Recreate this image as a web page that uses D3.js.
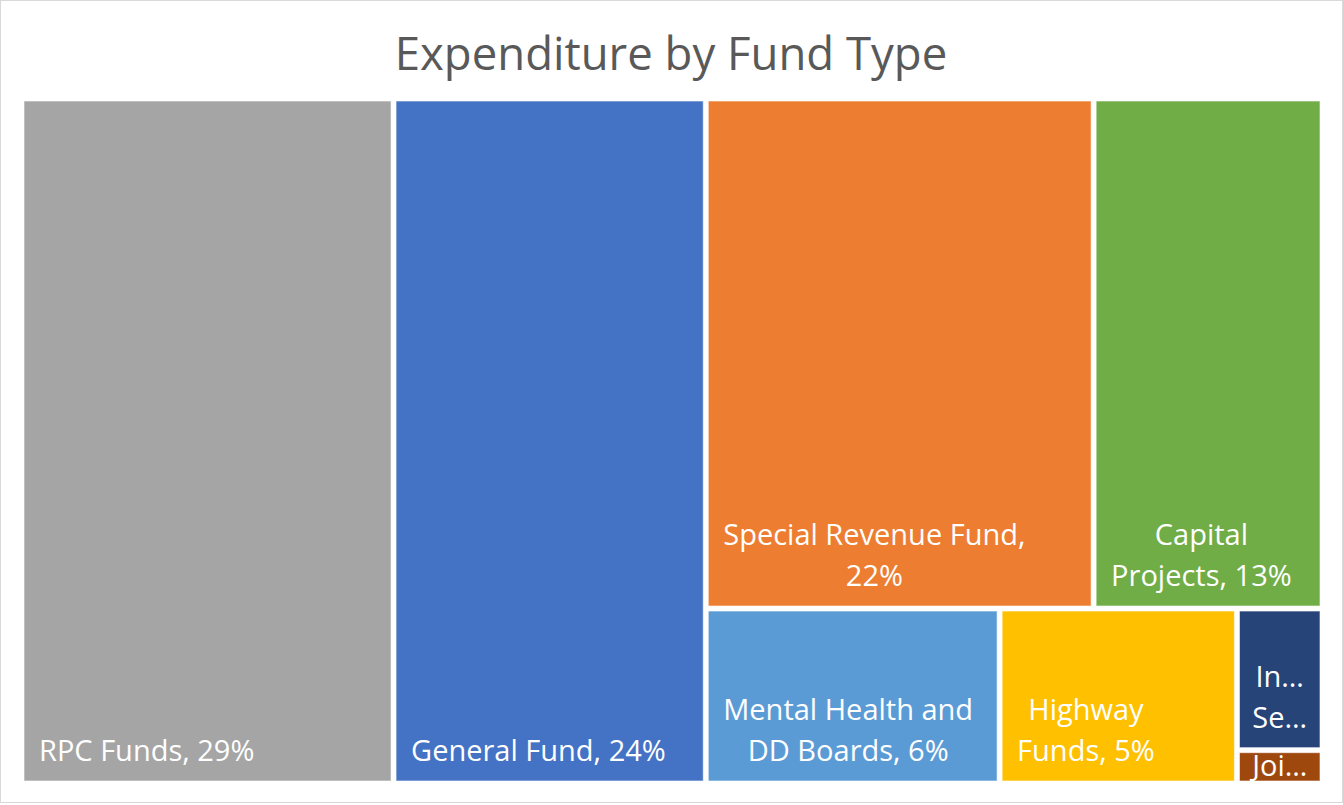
<!DOCTYPE html>
<html lang="en">
  <head>
    <meta charset="UTF-8" />
    <title>Expenditure by Fund Type</title>
    <script src="https://d3js.org/d3.v7.min.js"></script>
    <style>
      body { margin: 0; background: #fff; }
    </style>
  </head>
  <body>
    <div id="chart"></div>
    <script>
      // fund types, share of expenditure (%) and Excel colours
      const categories = [
        "RPC Funds",
        "General Fund",
        "Special Revenue Fund",
        "Capital Projects",
        "Mental Health and DD Boards",
        "Highway Funds",
        "Internal Service Funds",
        "Joint Funds",
      ];
      const shares = [28.6, 24.0, 22.2, 13.1, 5.77, 4.66, 1.36, 0.32];
      const colors = ["#A5A5A5", "#4472C4", "#ED7D31", "#70AD47", "#5B9BD5", "#FFC000", "#264478", "#9E480E"];
      // how Excel nested the tiles (slice / dice groups)
      const groups = ["", "", "rest/top", "rest/top", "rest/bottom", "rest/bottom", "rest/bottom/small", "rest/bottom/small"];

      const width = 1343, height = 805;
      const svg = d3.select("#chart").append("svg")
        .attr("width", width).attr("height", height)
        .style("font-family", "'Open Sans', sans-serif");

      // chart border
      svg.append("rect")
        .attr("x", 0.5).attr("y", 0.5)
        .attr("width", width - 1).attr("height", height - 3)
        .attr("fill", "white").attr("stroke", "#d9d9d9");

      svg.append("text")
        .attr("x", 671).attr("y", 70)
        .attr("text-anchor", "middle")
        .attr("font-size", 45.5)
        .attr("fill", "#595959")
        .text("Expenditure by Fund Type");

      // build the hierarchy rows for stratify
      const rows = [{ id: "root", parent: null }];
      const seen = new Set(["root"]);
      groups.forEach(function (g) {
        if (!g) return;
        let parent = "root";
        g.split("/").forEach(function (part, i, arr) {
          const id = arr.slice(0, i + 1).join("/");
          if (!seen.has(id)) {
            rows.push({ id: id, parent: parent });
            seen.add(id);
          }
          parent = id;
        });
      });
      categories.forEach(function (c, i) {
        rows.push({ id: c, parent: groups[i] || "root", value: shares[i], color: colors[i] });
      });

      const root = d3.stratify().id(d => d.id).parentId(d => d.parent)(rows)
        .sum(d => d.value || 0);
      // keep the order of the categories array
      const firstIdx = n => d3.min(n.leaves(), l => categories.indexOf(l.data.id));
      root.sort((a, b) => firstIdx(a) - firstIdx(b));
      const total = root.value;

      d3.treemap()
        .tile(d3.treemapSliceDice)
        .size([1296, 680])
        .paddingInner(5)(root);

      const pct = d3.format(".0%");
      const plot = svg.append("g").attr("transform", "translate(24,101)");

      const leaf = plot.selectAll("g.leaf")
        .data(root.leaves())
        .join("g")
        .attr("class", "leaf")
        .attr("transform", d => `translate(${d.x0},${d.y0})`);

      leaf.append("rect")
        .attr("width", d => d.x1 - d.x0)
        .attr("height", d => d.y1 - d.y0)
        .attr("fill", d => d.data.color)
        .attr("stroke", "rgba(255,255,255,0.6)")
        .attr("stroke-width", 1);

      const fontSize = 29, lineH = 41;

      // measuring helper
      const meas = svg.append("text").attr("font-size", fontSize).attr("visibility", "hidden");
      function textW(s) {
        meas.text(s);
        return meas.node().getComputedTextLength();
      }
      function fitWord(word, avail) {
        if (textW(word) <= avail) return word;
        let s = word;
        while (s.length > 1 && textW(s + "…") > avail) s = s.slice(0, -1);
        return s + "…";
      }

      leaf.each(function (d) {
        const w = d.x1 - d.x0, h = d.y1 - d.y0;
        const avail = w - 30;
        const words = (d.data.id + ", " + pct(d.value / total)).split(" ");
        let lines = [];
        let cur = "";
        words.forEach(function (wd) {
          const test = cur ? cur + " " + wd : wd;
          if (textW(test) <= avail) cur = test;
          else {
            if (cur) lines.push(cur);
            cur = wd;
          }
        });
        if (cur) lines.push(cur);
        lines = lines.map(l => fitWord(l, w - 25));
        const maxLines = Math.max(1, Math.min(2, Math.floor(h / 32)));
        lines = lines.slice(0, maxLines);

        const widths = lines.map(textW);
        const blockW = d3.max(widths);
        const cx = Math.min(15 + blockW / 2, w / 2);
        const lastBase = h - Math.min(20, (h - 19) / 2);

        const t = d3.select(this).append("text")
          .attr("font-size", fontSize)
          .attr("fill", "white")
          .attr("text-anchor", "middle");
        lines.forEach(function (l, i) {
          t.append("tspan")
            .attr("x", cx)
            .attr("y", lastBase - (lines.length - 1 - i) * lineH)
            .text(l);
        });
      });
      meas.remove();
    </script>
  </body>
</html>
